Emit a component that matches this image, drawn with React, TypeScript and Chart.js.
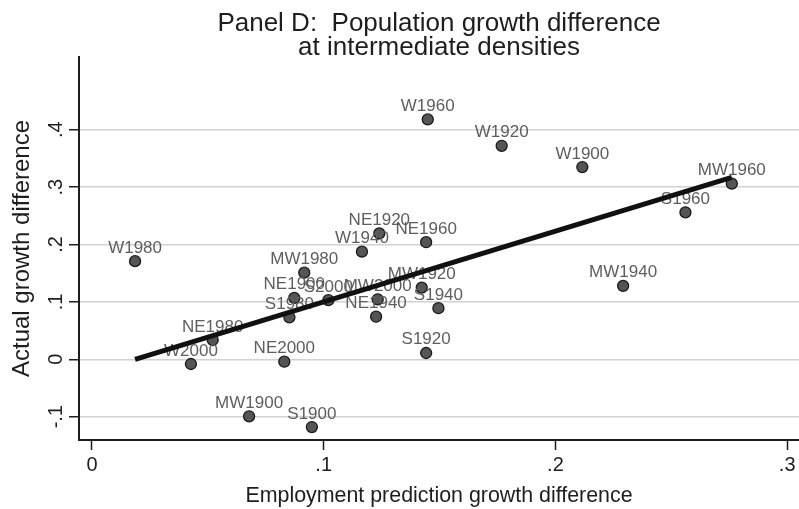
import React, { useEffect, useRef } from "react";
import { Chart, registerables } from "chart.js";

Chart.register(...registerables);

// ---- data ----
const pointLabels = [
  "W1960", "W1920", "W1900", "MW1960", "S1960", "NE1960", "MW1940", "MW1920",
  "S1940", "NE1920", "W1940", "MW1980", "NE1900", "S2000", "MW2000", "NE1940",
  "S1980", "S1920", "W2000", "NE2000", "MW1900", "S1900", "NE1980", "W1980",
];
const xValues = [
  0.1449, 0.1768, 0.2116, 0.2761, 0.2561, 0.1442, 0.2292, 0.1423,
  0.1495, 0.1240, 0.1165, 0.0916, 0.0873, 0.1020, 0.1233, 0.1226,
  0.0852, 0.1442, 0.0427, 0.0830, 0.0678, 0.0949, 0.0521, 0.0186,
];
const yValues = [
  0.418, 0.372, 0.335, 0.306, 0.256, 0.204, 0.128, 0.125,
  0.089, 0.2195, 0.1875, 0.151, 0.107, 0.103, 0.1045, 0.0742,
  0.0732, 0.011, -0.0082, -0.0042, -0.0993, -0.118, 0.0336, 0.171,
];
const fitX = [0.0186, 0.2761];
const fitY = [0.0, 0.317];

const xTicks = [0, 0.1, 0.2, 0.3];
const xTickLabels = ["0", ".1", ".2", ".3"];
const yTicks = [-0.1, 0, 0.1, 0.2, 0.3, 0.4];
const yTickLabels = ["-.1", "0", ".1", ".2", ".3", ".4"];

const titleLines = ["Panel D:  Population growth difference", "at intermediate densities"];
const xTitle = "Employment prediction growth difference";
const yTitle = "Actual growth difference";

const FONT = "'Liberation Sans', Arial, Helvetica, sans-serif";

function drawText(
  ctx: CanvasRenderingContext2D,
  text: string,
  x: number,
  y: number,
  size: number,
  color: string,
  align: CanvasTextAlign,
  rotate = 0
) {
  ctx.save();
  ctx.translate(x, y);
  if (rotate) ctx.rotate(rotate);
  ctx.font = `${size}px ${FONT}`;
  ctx.fillStyle = color;
  ctx.textAlign = align;
  ctx.textBaseline = "alphabetic";
  ctx.fillText(text, 0, 0);
  ctx.restore();
}

const stataText = {
  id: "stataText",
  afterDatasetDraw(chart: any, args: any) {
    if (args.index !== 0) return;
    const ctx = chart.ctx as CanvasRenderingContext2D;
    const xs = chart.scales.x;
    const ys = chart.scales.y;
    pointLabels.forEach((lab, i) => {
      const px = xs.getPixelForValue(xValues[i]);
      const py = ys.getPixelForValue(yValues[i]);
      drawText(ctx, lab, px, py - 8.5, 17, "#5e5e5e", "center");
    });
  },
  afterDraw(chart: any) {
    const ctx = chart.ctx as CanvasRenderingContext2D;
    const xs = chart.scales.x;
    const ys = chart.scales.y;
    const area = chart.chartArea;
    const cx = (area.left + area.right) / 2;
    const cy = (area.top + area.bottom) / 2;
    drawText(ctx, titleLines[0], cx, 31, 26, "#1e1e1e", "center");
    drawText(ctx, titleLines[1], cx, 55, 26, "#1e1e1e", "center");
    xTicks.forEach((v, i) => {
      drawText(ctx, xTickLabels[i], xs.getPixelForValue(v), 471, 20, "#1e1e1e", "center");
    });
    yTicks.forEach((v, i) => {
      drawText(ctx, yTickLabels[i], 62, ys.getPixelForValue(v), 20, "#1e1e1e", "center", -Math.PI / 2);
    });
    drawText(ctx, xTitle, cx, 502, 21.4, "#1e1e1e", "center");
    drawText(ctx, yTitle, 29, cy, 24, "#1e1e1e", "center", -Math.PI / 2);
  },
};

export default function App() {
  const canvasRef = useRef<HTMLCanvasElement | null>(null);

  useEffect(() => {
    const canvas = canvasRef.current;
    if (!canvas) return;
    const chart = new Chart(canvas, {
      type: "scatter",
      data: {
        datasets: [
          {
            type: "scatter",
            data: xValues.map((x, i) => ({ x, y: yValues[i] })),
            pointRadius: 5.5,
            pointBackgroundColor: "#555555",
            pointBorderColor: "#1a1a1a",
            pointBorderWidth: 1.3,
            order: 2,
            clip: false,
          } as any,
          {
            type: "line",
            data: fitX.map((x, i) => ({ x, y: fitY[i] })),
            borderColor: "#111111",
            borderWidth: 5,
            pointRadius: 0,
            fill: false,
            order: 1,
            clip: false,
          } as any,
        ],
      },
      plugins: [stataText],
      options: {
        responsive: false,
        animation: false,
        devicePixelRatio: 1,
        events: [],
        layout: { padding: { left: 79, right: 0, top: 57, bottom: 69 }, autoPadding: false } as any,
        plugins: {
          legend: { display: false },
          title: { display: false },
          tooltip: { enabled: false },
        },
        scales: {
          x: {
            type: "linear",
            min: -0.0056,
            max: 0.3051,
            afterBuildTicks: (s: any) => {
              s.ticks = xTicks.map((v) => ({ value: v }));
            },
            afterFit: (s: any) => {
              s.height = 0;
            },
            ticks: { display: false },
            grid: {
              drawOnChartArea: false,
              drawTicks: true,
              tickLength: 10,
              tickColor: "#1e1e1e",
              tickWidth: 1.5,
            },
            border: { display: true, color: "#1e1e1e", width: 2 },
          } as any,
          y: {
            type: "linear",
            min: -0.1406,
            max: 0.5267,
            afterBuildTicks: (s: any) => {
              s.ticks = yTicks.map((v) => ({ value: v }));
            },
            afterFit: (s: any) => {
              s.width = 0;
            },
            ticks: { display: false },
            grid: {
              color: "#d2d2d2",
              lineWidth: 1.5,
              drawTicks: true,
              tickLength: 10,
              tickColor: "#1e1e1e",
              tickWidth: 1.5,
            },
            border: { display: true, color: "#1e1e1e", width: 2 },
          } as any,
        },
      },
    });
    return () => chart.destroy();
  }, []);

  return (
    <div
      style={{
        position: "absolute",
        left: 0,
        top: 0,
        width: 799,
        height: 509,
        background: "#ffffff",
      }}
    >
      <canvas ref={canvasRef} width={799} height={509} style={{ display: "block" }} />
    </div>
  );
}
